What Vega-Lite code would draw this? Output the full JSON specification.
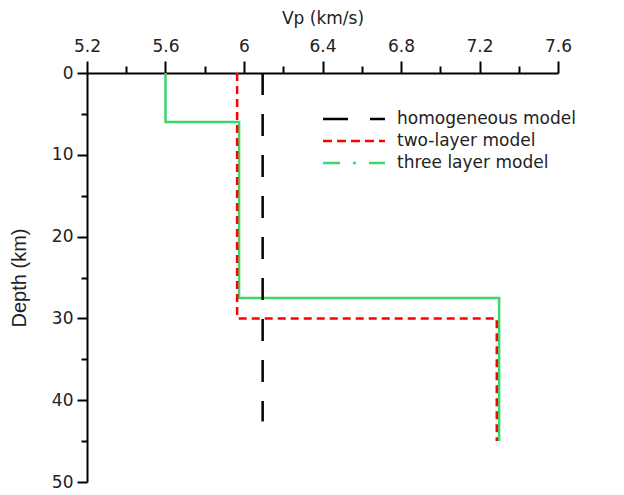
{
  "$schema": "https://vega.github.io/schema/vega-lite/v6.json",
  "width": 471,
  "height": 409,
  "autosize": {"type": "none"},
  "padding": {"left": 87, "top": 73, "right": 66, "bottom": 13},
  "background": "white",
  "config": {
    "view": {"stroke": null},
    "font": "DejaVu Sans"
  },
  "data": {
    "values": [
      {"series": "three layer model", "dashkey": "c", "i": 1, "vp": 5.6, "depth": 0},
      {"series": "three layer model", "dashkey": "c", "i": 2, "vp": 5.6, "depth": 6},
      {"series": "three layer model", "dashkey": "c", "i": 3, "vp": 5.975, "depth": 6},
      {"series": "three layer model", "dashkey": "c", "i": 4, "vp": 5.975, "depth": 27.5},
      {"series": "three layer model", "dashkey": "c", "i": 5, "vp": 7.3, "depth": 27.5},
      {"series": "three layer model", "dashkey": "c", "i": 6, "vp": 7.3, "depth": 45},
      {"series": "two-layer model", "dashkey": "b", "i": 1, "vp": 5.965, "depth": 0},
      {"series": "two-layer model", "dashkey": "b", "i": 2, "vp": 5.965, "depth": 30},
      {"series": "two-layer model", "dashkey": "b", "i": 3, "vp": 7.288, "depth": 30},
      {"series": "two-layer model", "dashkey": "b", "i": 4, "vp": 7.288, "depth": 45},
      {"series": "homogeneous model", "dashkey": "a", "i": 1, "vp": 6.095, "depth": 0},
      {"series": "homogeneous model", "dashkey": "a", "i": 2, "vp": 6.095, "depth": 42.6}
    ]
  },
  "mark": {"type": "line", "strokeWidth": 2.5, "clip": false},
  "encoding": {
    "x": {
      "field": "vp",
      "type": "quantitative",
      "scale": {"domain": [5.2, 7.6], "nice": false, "zero": false},
      "axis": {
        "orient": "top",
        "title": "Vp (km/s)",
        "titleFont": "DejaVu Sans",
        "titleFontSize": 17,
        "titleFontWeight": "normal",
        "titleColor": "#222",
        "titlePadding": 10,
        "values": [5.2, 5.4, 5.6, 5.8, 6.0, 6.2, 6.4, 6.6, 6.8, 7.0, 7.2, 7.4, 7.6],
        "format": "~g",
        "labelExpr": "round(datum.value*10) % 4 == 0 ? datum.label : ''",
        "labelFlush": false,
        "labelFontSize": 17,
        "labelColor": "#222",
        "labelPadding": 6,
        "domainColor": "black",
        "domainWidth": 2,
        "tickColor": "black",
        "tickWidth": 2,
        "tickSize": {"condition": {"test": "round(datum.value*10) % 4 == 0", "value": 12}, "value": 7},
        "grid": false
      }
    },
    "y": {
      "field": "depth",
      "type": "quantitative",
      "scale": {"domain": [0, 50], "reverse": true, "nice": false},
      "axis": {
        "title": "Depth (km)",
        "titleFont": "Liberation Sans",
        "titleFontSize": 20,
        "titleFontWeight": "normal",
        "titleColor": "#222",
        "titlePadding": 22,
        "values": [0, 5, 10, 15, 20, 25, 30, 35, 40, 45, 50],
        "labelExpr": "datum.value % 10 == 0 ? datum.label : ''",
        "labelFlush": false,
        "labelFontSize": 17,
        "labelColor": "#222",
        "labelPadding": 4,
        "domainColor": "black",
        "domainWidth": 2,
        "tickColor": "black",
        "tickWidth": 2,
        "tickSize": {"condition": {"test": "datum.value % 10 == 0", "value": 10}, "value": 6},
        "grid": false
      }
    },
    "color": {
      "field": "series",
      "type": "nominal",
      "sort": ["homogeneous model", "two-layer model", "three layer model"],
      "scale": {
        "domain": ["homogeneous model", "two-layer model", "three layer model"],
        "range": ["#000000", "#ff0000", "#3dd56d"]
      },
      "legend": {
        "title": null,
        "orient": "none",
        "legendX": 255,
        "legendY": 34,
        "symbolType": "M-3,0H3",
        "symbolSize": 427,
        "symbolStrokeWidth": 2.5,
        "labelFontSize": 17,
        "labelColor": "#222",
        "labelLimit": 400,
        "labelOffset": 31,
        "rowPadding": 2,
        "padding": 0,
        "encode": {
          "symbols": {
            "enter": {
              "strokeDash": {"signal": "datum.value === 'three layer model' ? [17,13,3,13] : (datum.value === 'two-layer model' ? [9,5] : [25,22])"}
            },
            "update": {
              "strokeDash": {"signal": "datum.value === 'three layer model' ? [17,13,3,13] : (datum.value === 'two-layer model' ? [9,5] : [25,22])"}
            }
          }
        }
      }
    },
    "strokeDash": {
      "field": "dashkey",
      "type": "nominal",
      "scale": {
        "domain": ["a", "b", "c"],
        "range": [[22, 19], [8, 5], [1, 0]]
      },
      "legend": null
    },
    "order": {"field": "i", "type": "quantitative"}
  }
}
